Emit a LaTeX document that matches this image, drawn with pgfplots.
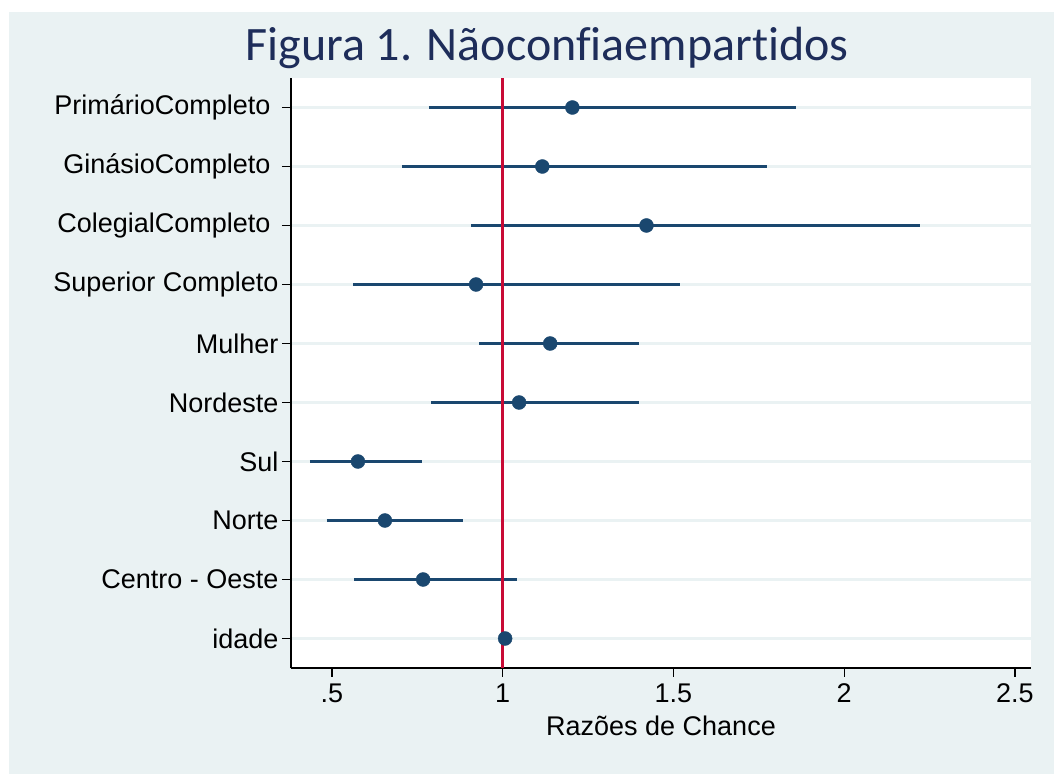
\documentclass[border=0pt]{standalone}
\usepackage{fontspec}
\setmainfont{Liberation Sans}
\newfontfamily\titlefont[Ligatures=NoCommon]{Carlito}
\usepackage{pgfplots}
\pgfplotsset{compat=1.18}
\definecolor{bgc}{HTML}{EAF2F3}
\definecolor{navyc}{HTML}{1A476F}
\definecolor{redc}{HTML}{C80A35}
\definecolor{titlec}{HTML}{1E2D5A}
\begin{document}
\begin{tikzpicture}
\fill[white] (0,0) rectangle (1054pt,774pt);
\fill[bgc] (9pt,0) rectangle (1054pt,762pt);
\begin{axis}[
  at={(291pt,106pt)}, anchor=south west,
  width=740pt, height=590pt, scale only axis,
  xmin=0.38, xmax=2.547, ymin=0.5, ymax=10.5,
  axis x line*=bottom, axis y line*=left,
  axis line style={black, line width=1.2pt, -},
  axis background/.style={fill=white},
  xtick={0.5,1,1.5,2,2.5},
  xticklabels={.5,1,1.5,2,2.5},
  ytick={1,2,3,4,5,6,7,8,9,10},
  yticklabels={idade,Centro - Oeste,Norte,Sul,Nordeste,Mulher,Superior Completo,ColegialCompleto\kern8pt,GinásioCompleto\kern8pt,PrimárioCompleto\kern8pt},
  tick align=outside,
  major tick length=9pt,
  tick style={black, line width=1.2pt},
  ymajorgrids,
  grid style={bgc, line width=3pt},
  /pgf/number format/assume math mode=true,
  ticklabel style={font=\fontsize{27}{32}\selectfont},
  xticklabel style={yshift=-3pt},
  xlabel={Razões de Chance},
  xlabel style={font=\fontsize{27}{32}\selectfont, at={(axis description cs:0.5,0)}, anchor=base, yshift=-67pt},
  clip=false,
]
\pgfplotsset{ci/.style={navyc, line width=3pt, forget plot}}
\addplot[ci] coordinates {(0.784,10) (1.858,10)};
\addplot[ci] coordinates {(0.705,9) (1.773,9)};
\addplot[ci] coordinates {(0.908,8) (2.221,8)};
\addplot[ci] coordinates {(0.562,7) (1.518,7)};
\addplot[ci] coordinates {(0.931,6) (1.400,6)};
\addplot[ci] coordinates {(0.790,5) (1.400,5)};
\addplot[ci] coordinates {(0.435,4) (0.764,4)};
\addplot[ci] coordinates {(0.485,3) (0.884,3)};
\addplot[ci] coordinates {(0.565,2) (1.043,2)};
\addplot[ci] coordinates {(1.000,1) (1.014,1)};
\addplot[redc, line width=2.5pt, forget plot] coordinates {(1,0.5) (1,10.5)};
\addplot[only marks, mark=*, mark size=7pt, mark options={fill=navyc, draw=navyc}, forget plot] coordinates {
(1.204,10) (1.116,9) (1.421,8) (0.922,7) (1.139,6) (1.048,5) (0.576,4) (0.655,3) (0.767,2) (1.007,1)};
\end{axis}
\node[font=\titlefont\fontsize{48}{56}\selectfont, text=titlec, anchor=base] at (547pt,713pt) {Figura 1. Nãoconfiaempartidos};
\pgfresetboundingbox
\useasboundingbox (0,0) rectangle (1054pt,774pt);
\end{tikzpicture}
\end{document}
